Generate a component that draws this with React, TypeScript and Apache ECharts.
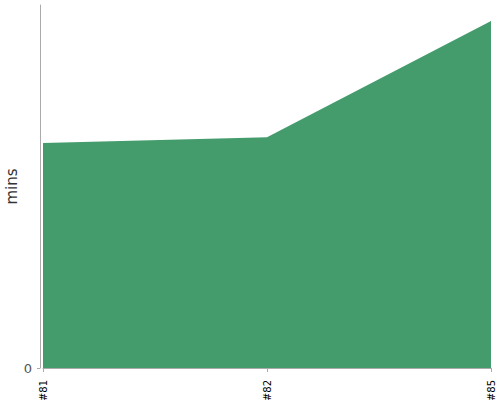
import { useEffect, useRef } from 'react';
import * as echarts from 'echarts';

const builds = ['#81', '#82', '#85'];
const minutes = [62.0, 63.6, 95.6];
const yTicks = [0];

function App() {
  const chartRef = useRef<HTMLDivElement>(null);

  useEffect(() => {
    const myChart = echarts.init(chartRef.current, null, { renderer: 'svg' });

    const option = {
      animation: false,
      textStyle: { fontFamily: 'DejaVu Sans' },
      grid: {
        left: 43,
        right: 9,
        top: 5,
        bottom: 32,
        outerBoundsMode: 'none',
      },
      xAxis: {
        type: 'category',
        data: builds,
        boundaryGap: false,
        offset: 3,
        axisLine: { lineStyle: { color: '#aaa', width: 1 } },
        axisTick: { length: 4, lineStyle: { color: '#aaa' } },
        axisLabel: {
          rotate: 90,
          color: '#000',
          fontSize: 10,
          margin: 9,
        },
      },
      yAxis: {
        type: 'value',
        min: 0,
        max: 100,
        offset: 3,
        name: 'mins',
        nameLocation: 'middle',
        nameGap: 21,
        nameMoveOverlap: false,
        nameTextStyle: { color: '#333', fontSize: 15 },
        axisLine: { show: true, lineStyle: { color: '#aaa', width: 1 } },
        axisTick: { show: true, length: 3, customValues: yTicks, lineStyle: { color: '#aaa' } },
        axisLabel: { color: '#555', fontSize: 13, margin: 8, customValues: yTicks },
        splitLine: { show: false },
      },
      series: [
        {
          type: 'line',
          data: minutes,
          showSymbol: false,
          lineStyle: { width: 0 },
          itemStyle: { color: '#449c6c' },
          areaStyle: { color: '#449c6c', opacity: 1 },
        },
      ],
    };

    myChart.setOption(option);

    return () => {
      myChart.dispose();
    };
  }, []);

  return (
    <div
      ref={chartRef}
      style={{ position: 'absolute', left: 0, top: 0, width: '500px', height: '400px' }}
    ></div>
  );
}

export default App;
